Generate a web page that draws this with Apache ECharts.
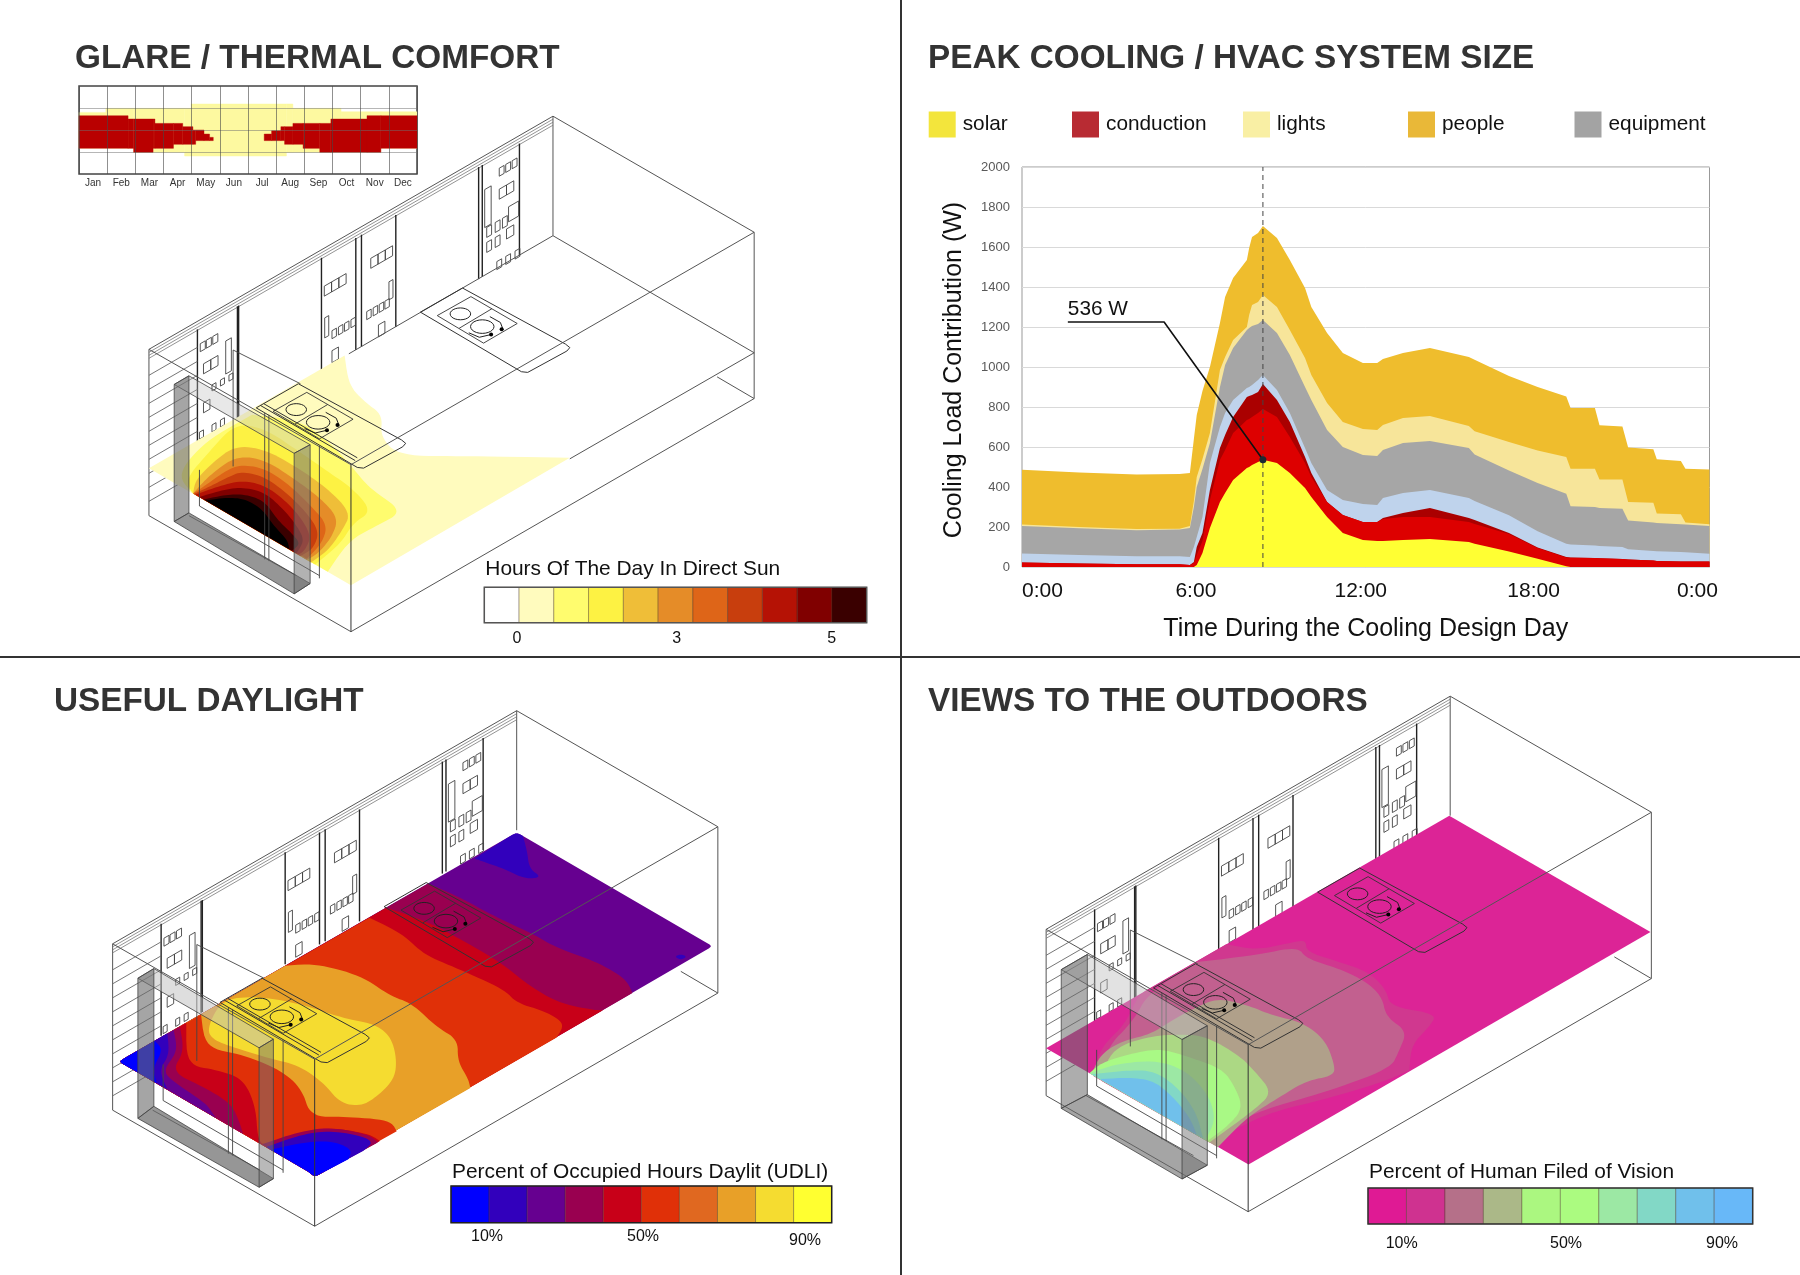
<!DOCTYPE html>
<html>
<head>
<meta charset="utf-8">
<title>Daylight study</title>
<script src="https://cdn.jsdelivr.net/npm/echarts@6/dist/echarts.min.js"></script>
<style>
  html, body { margin: 0; background: #fff; }
  #chart { width: 1800px; height: 1275px; }
</style>
</head>
<body>
<div id="chart"></div>
<script>
const FONT = '"Liberation Sans", Arial, sans-serif'

// cooling load: upper edge of each layer, in W
const hours = [0,2,4,5.5,5.86,6,6.1,6.3,6.56,6.91,7.09,7.37,7.85,7.93,8.03,8.24,8.41,8.9,9.35,9.88,10.1,10.65,11.2,11.9,12.4,12.6,13.3,14.24,15.6,15.8,17,18,19,19.15,20,20.16,20.96,21.16,22.04,22.16,23,23.16,24]
const solarTop = [0,0,0,0,0,0,10,70,195,325,370,435,495,500,510,525,536,520,470,395,350,250,170,135,130,130,135,140,125,116,77,41,4,0,0,0,0,0,0,0,0,0,0]
const glazingTop = [23,17,14,14,10,20,60,130,335,535,585,670,735,740,750,770,790,750,650,520,450,325,260,225,225,240,250,250,225,215,165,95,48,46,45,44,40,38,32,30,27,27,27]
const conductionTop = [23,17,14,14,10,25,100,170,385,595,660,750,850,855,860,875,915,835,725,550,470,325,260,225,225,245,270,295,245,235,170,98,50,48,45,44,40,38,32,30,27,27,27]
const outsideAirTop = [68,60,54,54,50,100,150,250,520,700,770,835,895,900,910,935,960,885,770,595,520,385,335,315,310,345,370,385,345,330,259,179,116,112,107,105,100,89,80,79,75,74,66]
const equipmentTop = [205,194,184,187,195,300,400,490,620,900,1010,1095,1185,1195,1205,1215,1235,1170,1060,900,835,685,600,560,555,585,620,630,595,562,482,420,366,304,300,295,291,232,223,220,214,212,205]
const lightsTop = [212,200,190,191,205,330,450,540,670,985,1050,1135,1200,1260,1310,1325,1360,1300,1185,1045,960,820,725,690,685,710,745,755,705,679,625,582,550,491,491,437,437,325,321,268,264,223,214]
const peopleTop = [486,472,463,465,470,640,760,880,1000,1220,1350,1445,1535,1595,1650,1670,1705,1645,1535,1395,1300,1170,1070,1020,1020,1040,1070,1095,1050,1036,955,900,852,795,795,709,702,598,589,539,530,491,488]
const peakHour = 8.41
const peakLoad = 536
const peakLeader = [[1.6,1225],[4.96,1225],[peakHour,peakLoad]]

// glare calendar: [first day, last day, from hour, to hour]
const months = ['Jan','Feb','Mar','Apr','May','Jun','Jul','Aug','Sep','Oct','Nov','Dec']
const sunSteps = [[0,29,7,16.8],[29,59,7,17.9],[59,114,5.9,17.9],[114,121,4.9,17.9],[121,224,4.9,19.1],[224,231,5.9,19.1],[231,283,5.9,17.9],[283,326,5.9,17],[326,365,7,17]]
const glareSteps = [[0,53,7,15.9],[53,59,7,15],[59,80,5.9,15],[80,82,7,15],[82,102,7,13.8],[102,112,8.1,13.8],[112,123,8.1,12.9],[123,126,8.1,12],[126,135,9.1,12],[135,141,9.1,10.9],[141,145,9.1,10],[200,208,9.1,10.9],[208,218,9.1,11.8],[218,222,9.1,12.9],[222,231,8.1,12.9],[231,242,8.1,13.8],[242,260,7,13.8],[260,272,5.9,13.8],[272,311,5.9,15],[311,326,5.9,15.9],[326,365,7,15.9]]

// colour ramps
const sunRamp = ['#FFFFFF','#FFFBBE','#FFFC6E','#FDF243','#EFBE38','#E58C28','#DE6518','#C83E0D','#B51205','#800000','#3A0000']
const udliRamp = ['#0000FF','#3200BC','#660090','#990050','#C80018','#E03008','#E06820','#E8A028','#F5DC30','#FFFF30']
const viewRamp = ['#DF1A94','#CF3290','#B57089','#ABB888','#ABF780','#ABFB80','#9CE8A4','#82D8C6','#70C0EB','#68B8F8']
const viewFill = ['#DC2496','#D0388F','#C2608F','#B0A08A','#ACD884','#A9F985','#9CE8A4','#82D8C6','#70C0EB']

// contour bands on the work plane, traced in crop pixels, a third value marks a hard corner
const sunBands = [
  [1,[[45,1040,1],[510,713,1],[520,800],[560,850],[600,885],[595,950],[640,1005],[800,1005],[1045,1010,1],[525,1380,1]]],
  [2,[[150,1114,1],[110,1060],[180,960],[290,885,1],[400,900],[470,960],[530,1040],[570,1100],[650,1165],[590,1205],[520,1250],[470,1341,1]]],
  [3,[[150,1114,1],[130,1075],[190,990],[250,910],[320,925],[400,990],[470,1050],[530,1100],[575,1165],[530,1200],[500,1260],[440,1320,1]]],
  [4,[[150,1114,1],[155,1075],[200,1020],[250,975],[320,985],[400,1040],[470,1100],[525,1170],[505,1220],[470,1280],[430,1314,1]]],
  [5,[[150,1114,1],[170,1085],[205,1045],[255,1005],[320,1015],[395,1075],[455,1130],[495,1185],[480,1240],[445,1290],[420,1306,1]]],
  [6,[[150,1114,1],[185,1085],[225,1050],[260,1030],[320,1040],[380,1090],[430,1150],[470,1205],[455,1260],[420,1303,1]]],
  [7,[[152,1115,1],[195,1090],[235,1065],[265,1050],[320,1065],[375,1115],[420,1170],[450,1225],[435,1275],[405,1295,1]]],
  [8,[[155,1117,1],[205,1095],[265,1075],[320,1090],[370,1135],[410,1190],[430,1240],[415,1280],[400,1291,1]]],
  [9,[[165,1124,1],[215,1105],[265,1095],[320,1110],[365,1160],[395,1205],[415,1250],[395,1288,1]]],
  [10,[[175,1131,1],[225,1118],[270,1115],[320,1135],[350,1190],[385,1230],[405,1260],[385,1280,1]]]
]
const sunCore = [[180,1134,1],[230,1125],[275,1130],[315,1160],[340,1205],[375,1250],[378,1275,1]]

const udliLeft = [[60,1061,1],[45,1050],[60,1039,1]]
const udliFront = [[525,1375,1],[510,1385],[495,1370,1]]
const udliCorners = udliFront.concat(udliLeft)
const udliBands = [
  [2,[[975,395,1],[990,385],[1005,395,1],[1440,704,1],[1455,715],[1440,726,1]].concat(udliCorners)],
  [1,[[890,460,1],[975,395,1],[990,385],[1005,395,1],[1015,440],[1020,490],[1050,515],[1010,520],[960,490],[900,465]]],
  [3,[[780,533,1],[850,570],[940,630],[1030,680],[1085,720],[1180,760],[1250,810],[1265,851,1]].concat(udliCorners)],
  [4,[[680,603,1],[770,640],[850,690],[950,760],[1020,830],[1090,880],[1170,900],[1195,901,1]].concat(udliCorners)],
  [5,[[640,632,1],[720,680],[770,740],[850,780],[960,840],[990,880],[1060,905],[1105,940],[1085,980,1]].concat(udliCorners)],
  [7,[[440,772,1],[510,765],[620,800],[690,860],[740,880],[800,950],[850,985],[850,1050],[875,1100],[880,1127,1]].concat(udliCorners)],
  [8,[[290,870],[370,860],[470,880],[580,925],[650,940],[690,975],[705,1040],[700,1100],[660,1150],[620,1180],[570,1170],[530,1110],[470,1060],[400,1040],[320,1010],[265,985],[255,950]]],
  [5,[[240,913,1],[250,1010],[340,1030],[430,1075],[480,1130],[500,1210],[580,1210],[690,1220],[705,1252,1]].concat(udliCorners)],
  [4,[[205,937,1],[205,1060],[280,1075],[340,1100],[370,1180],[375,1280],[395,1295],[470,1260],[540,1240],[640,1260],[665,1281,1]].concat(udliCorners)],
  [3,[[190,948,1],[200,1020],[170,1080],[240,1120],[310,1170],[330,1220],[340,1260,1]].concat(udliLeft)],
  [2,[[175,958,1],[185,1020],[150,1075],[170,1105],[250,1170],[265,1195],[275,1213,1]].concat(udliLeft)],
  [1,[[160,968,1],[165,1030],[140,1075],[160,1130,1]].concat(udliLeft)],
  [0,[[130,990,1],[150,1015],[125,1070],[135,1113,1]].concat(udliLeft)],
  [3,[[385,1290,1],[470,1255],[545,1240],[640,1262],[660,1285,1]].concat(udliFront)],
  [1,[[395,1298,1],[470,1265],[540,1250],[620,1265],[650,1285],[625,1310,1]].concat(udliFront)],
  [0,[[405,1306,1],[480,1285],[550,1280],[600,1305],[590,1334,1]].concat(udliFront)],
  [1,[[1365,745],[1380,738],[1395,745],[1380,755]]]
]

const viewBands = [
  [0,[[62,1040,1],[1020,365,1],[1498,703,1],[543,1378,1]]],
  [1,[[175,1122,1],[190,1040],[250,970],[280,890],[300,872,1],[490,738,1],[560,755],[640,735],[680,725],[680,760],[760,790],[830,820],[870,870],[880,920],[990,940],[975,975],[930,1030],[925,1105,1],[860,1140],[720,1190],[600,1225],[520,1270],[450,1314,1]]],
  [2,[[195,1136,1],[205,1040],[270,960],[305,880],[420,790,1],[560,770],[660,745],[680,780],[760,810],[820,845],[860,890],[870,950],[920,990],[900,1050],[880,1100],[720,1170],[600,1210],[510,1255],[440,1307,1]]],
  [3,[[470,895],[540,915],[600,945],[670,965],[725,1015],[748,1090],[745,1120],[680,1135],[620,1180],[540,1240],[470,1328,1],[170,1116,1],[190,1060],[240,1020],[310,1000],[360,960],[420,920]]],
  [4,[[190,1130,1],[220,1040],[310,1005],[380,1000],[440,1005],[520,1060],[560,1110],[600,1170],[555,1220],[500,1270],[450,1314,1]]],
  [5,[[165,1113,1],[190,1085],[250,1060],[330,1040],[400,1065],[480,1100],[510,1150],[530,1215],[495,1265],[445,1310,1]]],
  [6,[[165,1113,1],[230,1085],[330,1075],[400,1110],[450,1180],[465,1250],[440,1307,1]]],
  [7,[[170,1116,1],[250,1105],[320,1105],[380,1160],[420,1230],[435,1302,1]]],
  [8,[[190,1130,1],[260,1125],[320,1135],[370,1190],[405,1245],[420,1292,1]]]
]

// sun shade frame faces: top, left, bottom, right
const frameOne = [[[105,797],[140,772],[428,972],[390,997]],[[105,797],[140,772],[140,1170],[105,1195]],[[105,1195],[140,1170],[428,1375],[390,1405]],[[390,997],[428,972],[428,1375],[390,1405]]]
const frameTwo = [[[90,808],[128,780],[412,985],[378,1010]],[[90,808],[128,780],[128,1180],[90,1215]],[[90,1215],[128,1180],[412,1390],[378,1415]],[[378,1010],[412,985],[412,1390],[378,1415]]]
const frameThree = [[[98,812],[160,768],[445,975],[385,1015]],[[98,812],[160,768],[160,1175],[98,1215]],[[98,1215],[160,1175],[445,1380],[385,1420]],[[385,1015],[445,975],[445,1380],[385,1420]]]

// fittings on the back wall: [along wall, below ceiling, width, height]
const wallFittings = [
  [.127,24,.0125,8],[.142,24,.0125,8],[.158,24,.0125,8],[.135,46,.018,10],[.153,46,.018,10],[.19,36,.014,33],
  [.156,72,.01,6],[.177,72,.01,6],[.198,72,.01,6],[.135,85,.016,10],[.125,112,.01,7],[.156,112,.01,7],[.177,112,.01,7],
  [.434,38,.018,10],[.452,38,.018,10],[.47,38,.018,10],[.435,70,.01,20],[.453,87,.011,8],[.469,87,.011,8],[.484,87,.011,8],[.5,87,.011,8],[.453,107,.016,12],
  [.549,37,.018,10],[.567,37,.018,10],[.585,37,.018,10],[.594,71,.01,18],[.539,88,.011,8],[.555,88,.011,8],[.57,88,.011,8],[.584,88,.011,8],[.568,108,.016,12],
  [.867,21,.012,8],[.883,21,.012,8],[.899,21,.012,8],[.867,42,.018,10],[.885,42,.018,10],[.831,34,.016,38],[.89,65,.025,15],[.885,86,.018,10],
  [.836,73,.012,10],[.857,73,.012,10],[.875,73,.012,10],[.836,88,.012,10],[.857,88,.012,10],[.861,113,.012,8],[.883,113,.012,8],[.906,113,.012,8]
]
const wallPosts = [.12,.219,.222,.427,.512,.526,.611,.816,.825,.917]
const sillLines = [-33,-19,-5,9,23,37,51,65,79,93]

const crop = (ox, oy) => p => [ox + p[0] / 2.376, oy + p[1] / 2.904]
const wall = (u, d) => [45 + 960 * u, 695 - 677 * u + 2.904 * d]

const line = (pts, lineWidth = 1, stroke = '#555') => ({
  type: 'polyline', silent: true,
  shape: { points: pts },
  style: { stroke, lineWidth, fill: null }
})
const poly = (pts, fill, stroke, lineWidth = 1) => ({
  type: 'polygon', silent: true,
  shape: { points: pts },
  style: { fill, stroke: stroke || null, lineWidth }
})
const text = (str, x, y, fontSize, align = 'left') => ({
  type: 'text', silent: true, x, y: y + 2,
  style: { text: str, fontSize, fontFamily: FONT, fill: '#111', align, verticalAlign: 'middle' }
})

// corner cutting, hard corners stay where they are
function soften(points) {
  let pts = points
  for (let n = 0; n < 3; n++) {
    const next = []
    pts.forEach((p, i) => {
      const q = pts[(i + 1) % pts.length]
      next.push(p[2] ? p : [p[0] * .75 + q[0] * .25, p[1] * .75 + q[1] * .25])
      if (!q[2]) next.push([p[0] * .25 + q[0] * .75, p[1] * .25 + q[1] * .75])
    })
    pts = next
  }
  return pts
}

// a circle lying on the work plane, in crop pixels
function blob(cx, cy, r) {
  const pts = []
  for (let i = 0; i <= 24; i++) {
    const t = i / 24 * Math.PI * 2
    const a = r * Math.cos(t), b = r * Math.sin(t)
    pts.push([cx + (a + b) * .82, cy + (b - a) * .58])
  }
  return pts
}

function roomBack(T) {
  const out = []
  const close = pts => pts.concat([pts[0]]).map(T)
  out.push(line([[45,695],[1005,18],[1483,355]].map(T)))
  out.push(line([[1005,18],[1005,365]].map(T)))
  out.push(line([[45,695],[45,1178]].map(T)))
  out.push(line([[1483,355],[1483,838]].map(T)))
  out.push(line([[45,1178],[525,1515],[1483,838]].map(T)))
  out.push(line([[1483,838],[1395,775]].map(T)))
  ;[3, 6, 9].forEach(d => out.push(line([wall(0, d), wall(1, d)].map(T), .8, '#777')))
  wallPosts.forEach(u => out.push(line([wall(u, 8), wall(u, 120)].map(T), 1.4, '#222')))
  sillLines.forEach(h => out.push(line([wall(0, 119 - h), wall(.12, 119 - h)].map(T), .9, '#666')))
  wallFittings.forEach(f => {
    const [u, d, du, h] = f
    out.push(line(close([wall(u, d), wall(u + du, d), wall(u + du, d + h), wall(u, d + h)]), .9, '#444'))
  })
  return out
}

function desk(T, dx, dy, front) {
  const S = p => T([p[0] + dx, p[1] + dy])
  const out = []
  out.push(line([[400,795],[645,958],[655,968],[648,978],[555,1040],[540,1038],[300,865],[400,795]].map(S), 1, '#333'))
  if (front) {
    out.push(line([[310,858],[535,1018]].map(S), 1, '#333'))
    out.push(line([[318,853],[540,1010]].map(S), 1, '#333'))
  }
  out.push(line([[340,875],[420,820],[530,898],[450,955],[340,875]].map(S), .9, '#333'))
  out.push(line([[392,912],[470,855]].map(S), .9, '#333'))
  out.push(line(blob(395, 870, 21).map(S), 1, '#222'))
  out.push(line(blob(447, 907, 24).map(S), 1, '#222'))
  out.push(line([[465,878],[490,895],[497,917]].map(S), 1, '#222'))
  out.push(line([[415,925],[440,938],[468,930]].map(S), 1, '#222'))
  ;[[468,930],[493,915]].forEach(p => {
    const c = S(p)
    out.push({ type: 'circle', silent: true, shape: { cx: c[0], cy: c[1], r: 2 }, style: { fill: '#000' } })
  })
  return out
}

function roomFront(T) {
  const out = []
  out.push(...desk(T, 0, 0, true))
  out.push(...desk(T, 390, -278, false))
  out.push(line([[525,1030],[1483,355]].map(T)))
  out.push(line([[45,695],[525,1030]].map(T)))
  out.push(line([[525,1030],[525,1515]].map(T), 1, '#333'))
  out.push(line([[245,697],[245,1035]].map(T), .9, '#444'))
  out.push(line([[320,880],[320,1305]].map(T), .9, '#444'))
  out.push(line([[330,885],[330,1310]].map(T), .9, '#444'))
  out.push(line([[450,975],[450,1360]].map(T), .9, '#444'))
  out.push(line([[165,1045],[165,1150],[450,1352]].map(T), .9, '#444'))
  out.push(line([[140,1178],[395,1352]].map(T), .9, '#444'))
  out.push(line([[245,697],[405,795]].map(T), .9, '#444'))
  return out
}

function frame(T, faces, alpha) {
  const fills = [
    'rgba(190,190,190,' + alpha[0] + ')',
    'rgba(105,105,105,' + alpha[1] + ')',
    'rgba(105,105,105,' + alpha[2] + ')',
    'rgba(115,115,115,' + alpha[3] + ')'
  ]
  return faces.map((f, i) => poly(f.map(T), fills[i], '#444', .8))
}

function ramp(colors, x0, x1, y0, y1, title, titleY, marks, border) {
  const out = []
  const w = (x1 - x0) / colors.length
  colors.forEach((c, i) => {
    out.push({ type: 'rect', silent: true, shape: { x: x0 + i * w, y: y0, width: w, height: y1 - y0 }, style: { fill: c, stroke: 'rgba(60,40,20,.35)', lineWidth: 1 } })
  })
  out.push({ type: 'rect', silent: true, shape: { x: x0, y: y0, width: x1 - x0, height: y1 - y0 }, style: { fill: null, stroke: border, lineWidth: 1.5 } })
  out.push(text(title, x0 + 1, titleY, 20.9))
  marks.forEach(m => out.push(text(m[0], m[1], m[2], 16, 'center')))
  return out
}

const elements = []

// top left: hours of direct sun
const room1 = crop(130, 110)
elements.push(...roomBack(room1))
elements.push(line([[520,708],[1005,365],[1483,705],[1045,1013]].map(room1)))
sunBands.forEach(b => elements.push(poly(soften(b[1]).map(room1), sunRamp[b[0]])))
elements.push(poly(soften(sunCore).map(room1), '#000'))
elements.push(...roomFront(room1))
elements.push(...frame(room1, frameOne, [.35, .6, .7, .55]))
elements.push(...ramp(sunRamp, 484.3, 866.7, 587.3, 622.7, 'Hours Of The Day In Direct Sun', 567.7, [['0',517,637],['3',676.7,637],['5',831.7,637]], '#555'))

// bottom left: useful daylight
const room2 = crop(93.7, 704.5)
const plane2 = crop(100, 700)
elements.push(...roomBack(room2))
udliBands.forEach(b => elements.push(poly(soften(b[1]).map(plane2), udliRamp[b[0]])))
elements.push(...roomFront(room2))
elements.push(...frame(plane2, frameTwo, [.5, .6, .7, .5]))
elements.push(...ramp(udliRamp, 451, 831.7, 1186, 1222.7, 'Percent of Occupied Hours Daylit (UDLI)', 1170, [['10%',487,1235],['50%',643,1235],['90%',805,1239]], '#222'))

// bottom right: views
const room3 = crop(1027.2, 690)
const plane3 = crop(1020, 690)
elements.push(...roomBack(room3))
viewBands.forEach(b => elements.push(poly(soften(b[1]).map(plane3), viewFill[b[0]])))
elements.push(...roomFront(room3))
elements.push(...frame(plane3, frameThree, [.45, .55, .6, .5]))
elements.push(...ramp(viewRamp, 1368, 1752.7, 1188, 1224, 'Percent of Human Filed of Vision', 1170.7, [['10%',1401.7,1241.7],['50%',1566,1241.7],['90%',1722,1241.7]], '#333'))

// panel dividers
elements.push(line([[901,0],[901,1275]], 2, '#333'))
elements.push(line([[0,657],[1800,657]], 2, '#333'))

// each layer runs from zero up to its edge, the taller ones are painted first
const layer = (name, top, color) => ({
  name,
  type: 'line',
  xAxisIndex: 0,
  yAxisIndex: 0,
  symbol: 'none',
  lineStyle: { width: 0 },
  areaStyle: { color, opacity: 1 },
  itemStyle: { color },
  data: hours.map((h, i) => [h, top[i]])
})

const stepSeries = (name, rows, color, z) => ({
  name,
  type: 'custom',
  xAxisIndex: 2,
  yAxisIndex: 1,
  z,
  encode: { x: [0, 1], y: [2, 3] },
  data: rows,
  renderItem(params, api) {
    const a = api.coord([api.value(0), api.value(3)])
    const b = api.coord([api.value(1), api.value(2)])
    return {
      type: 'rect',
      shape: { x: a[0], y: a[1], width: b[0] - a[0], height: b[1] - a[1] },
      style: { fill: color, stroke: color, lineWidth: .4 }
    }
  }
})

const legendAt = (name, left, color) => ({
  left, top: 111.5, padding: 0, icon: 'rect', itemWidth: 27, itemHeight: 26,
  selectedMode: false,
  data: [{ name, itemStyle: { color } }],
  textStyle: { fontFamily: FONT, fontSize: 20.8, color: '#111', padding: [0, 0, 0, 2] }
})

const titleAt = (text, left, top) => ({
  text, left, top, padding: 0,
  textStyle: { fontFamily: FONT, fontSize: 33.3, fontWeight: 'bold', color: '#333' }
})

const chart = echarts.init(document.getElementById('chart'))
chart.setOption({
  animation: false,
  backgroundColor: '#fff',
  title: [
    titleAt('GLARE / THERMAL COMFORT', 75, 42.5),
    titleAt('PEAK COOLING / HVAC SYSTEM SIZE', 928, 42.5),
    titleAt('USEFUL DAYLIGHT', 54, 685.5),
    titleAt('VIEWS TO THE OUTDOORS', 928, 685.5)
  ],
  legend: [
    legendAt('solar', 928.7, '#F3E53C'),
    legendAt('conduction', 1072, '#B82B33'),
    legendAt('lights', 1243, '#F9EFA4'),
    legendAt('people', 1408, '#E9B838'),
    legendAt('equipment', 1574.5, '#A3A3A3')
  ],
  grid: [
    { left: 1022, top: 167, width: 687.5, height: 400, show: true, borderColor: '#999', borderWidth: 1, backgroundColor: '#fff' },
    { left: 79, top: 86, width: 338, height: 88, show: true, borderColor: '#444', borderWidth: 1.5, backgroundColor: '#fff' }
  ],
  xAxis: [
    {
      type: 'value', gridIndex: 0, min: 0, max: 24, interval: 6,
      name: 'Time During the Cooling Design Day', nameLocation: 'middle', nameGap: 50,
      nameTextStyle: { fontFamily: FONT, fontSize: 25, color: '#111' },
      axisLine: { show: false }, axisTick: { show: false }, splitLine: { show: false },
      axisLabel: {
        fontFamily: FONT, fontSize: 21, color: '#111', margin: 14,
        alignMinLabel: 'left', alignMaxLabel: 'center',
        formatter(v) {
          const label = (v % 24) + ':00'
          if (v === 6) return '{s6|' + label + '}'
          if (v === 12) return '{s12|' + label + '}'
          if (v === 18) return '{s18|' + label + '}'
          if (v === 24) return '{s24|' + label + '}'
          return label
        },
        rich: {
          s6: { fontFamily: FONT, fontSize: 21, color: '#111', padding: [0, 0, 0, 4] },
          s12: { fontFamily: FONT, fontSize: 21, color: '#111', padding: [0, 10, 0, 0] },
          s18: { fontFamily: FONT, fontSize: 21, color: '#111', padding: [0, 8, 0, 0] },
          s24: { fontFamily: FONT, fontSize: 21, color: '#111', padding: [0, 24, 0, 0] }
        }
      }
    },
    {
      type: 'category', gridIndex: 1, data: months, z: 5,
      axisLine: { show: false }, axisTick: { show: false },
      splitLine: { show: true, lineStyle: { color: 'rgba(70,70,70,.6)', width: 1 } },
      axisLabel: { fontFamily: FONT, fontSize: 10, color: '#333', margin: 4 }
    },
    { type: 'value', gridIndex: 1, min: 0, max: 365, show: false }
  ],
  yAxis: [
    {
      type: 'value', gridIndex: 0, min: 0, max: 2000, interval: 200,
      name: 'Cooling Load Contribution (W)', nameLocation: 'middle', nameGap: 55,
      nameTextStyle: { fontFamily: FONT, fontSize: 25, color: '#111', padding: [0, 6, 0, 0] },
      axisLine: { show: false }, axisTick: { show: false },
      splitLine: { lineStyle: { color: '#D9D9D9', width: 1 } },
      axisLabel: { fontFamily: FONT, fontSize: 13, color: '#595959', margin: 12, formatter: v => String(v) }
    },
    {
      type: 'value', gridIndex: 1, min: 0, max: 24, interval: 6, z: 5,
      axisLine: { show: false }, axisTick: { show: false }, axisLabel: { show: false },
      splitLine: { lineStyle: { color: 'rgba(110,110,110,.5)', width: 1 } }
    }
  ],
  series: [
    layer('people', peopleTop, '#EFBD2D'),
    layer('lights', lightsTop, '#F7E59A'),
    layer('equipment', equipmentTop, '#A6A6A6'),
    layer('outside air', outsideAirTop, '#BFD3EC'),
    layer('conduction', conductionTop, '#AA0000'),
    layer('glazing', glazingTop, '#DD0000'),
    layer('solar', solarTop, '#FFFF33'),
    {
      name: 'peak hour', type: 'line', xAxisIndex: 0, yAxisIndex: 0, z: 4, symbol: 'none',
      lineStyle: { color: '#444', width: 1, type: [5, 4] },
      data: [[peakHour, 0], [peakHour, 2000]]
    },
    {
      name: 'peak note', type: 'line', xAxisIndex: 0, yAxisIndex: 0, z: 5,
      showSymbol: true, showAllSymbol: true,
      lineStyle: { color: '#111', width: 1.6 },
      itemStyle: { color: '#1c2a33' },
      data: peakLeader.map((p, i) => ({
        value: p,
        symbol: 'circle',
        symbolSize: i === 2 ? 7 : 0.1,
        label: i === 0
          ? { show: true, position: 'top', align: 'left', distance: 2, formatter: peakLoad + ' W', fontFamily: FONT, fontSize: 20.8, color: '#111' }
          : { show: false }
      }))
    },
    stepSeries('sun', sunSteps, '#FDF9A0', 2),
    stepSeries('glare', glareSteps, '#B90000', 3)
  ],
  graphic: { elements }
})
</script>
</body>
</html>
